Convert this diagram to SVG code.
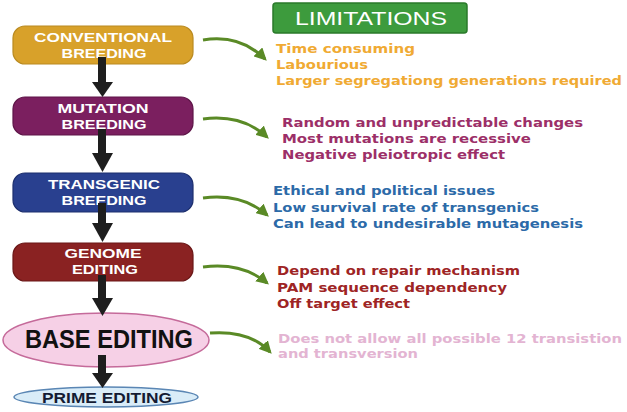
<svg xmlns="http://www.w3.org/2000/svg" width="627" height="412" viewBox="0 0 627 412">
<defs>
<style>
.box{stroke-width:1.2}
.lbl{font-family:"Liberation Sans",Arial,sans-serif;font-weight:bold;fill:#ffffff;font-size:13.5px;text-anchor:middle}
.lim{font-family:"DejaVu Sans","Liberation Sans",sans-serif;font-weight:bold;font-size:13px}
.shaft{stroke:#1e1e1e;stroke-width:8;fill:none}
.head{fill:#1e1e1e}
.green{stroke:#5a8a26;stroke-width:3;fill:none;marker-end:url(#gh)}
</style>
<marker id="gh" viewBox="0 0 10 10" refX="8" refY="5" markerWidth="4.2" markerHeight="4.2" orient="auto" markerUnits="strokeWidth">
<path d="M0,0 L10,5 L0,10 z" fill="#5a8a26"/>
</marker>
</defs>
<rect width="627" height="412" fill="#ffffff"/>

<g id="limitations">
<rect x="273" y="3" width="194" height="30" rx="3" fill="#3d9b3d" stroke="#2a7a2a" stroke-width="1.5"/>
<text x="371" y="25" font-family="Liberation Sans,Arial,sans-serif" font-size="19" fill="#ffffff" text-anchor="middle" textLength="152" lengthAdjust="spacingAndGlyphs">LIMITATIONS</text>
</g>

<g id="conventional">
<rect class="box" x="13" y="26" width="180" height="38" rx="12" fill="#d8a12a" stroke="#b98a20"/>
<text class="lbl" x="103" y="42" textLength="138" lengthAdjust="spacingAndGlyphs">CONVENTIONAL</text>
<text class="lbl" x="104" y="58" textLength="85" lengthAdjust="spacingAndGlyphs">BREEDING</text>
</g>
<g id="mutation">
<rect class="box" x="13" y="97" width="180" height="38" rx="12" fill="#7b1f5f" stroke="#5e1548"/>
<text class="lbl" x="103" y="113" textLength="91" lengthAdjust="spacingAndGlyphs">MUTATION</text>
<text class="lbl" x="104" y="129" textLength="85" lengthAdjust="spacingAndGlyphs">BREEDING</text>
</g>
<g id="transgenic">
<rect class="box" x="13" y="173" width="180" height="39" rx="12" fill="#29408f" stroke="#1d2f6e"/>
<text class="lbl" x="104" y="189" textLength="112" lengthAdjust="spacingAndGlyphs">TRANSGENIC</text>
<text class="lbl" x="104" y="205" textLength="85" lengthAdjust="spacingAndGlyphs">BREEDING</text>
</g>
<g id="genome">
<rect class="box" x="13" y="243" width="180" height="38" rx="12" fill="#8a2222" stroke="#6a1717"/>
<text class="lbl" x="103" y="258" textLength="77" lengthAdjust="spacingAndGlyphs">GENOME</text>
<text class="lbl" x="105" y="274" textLength="66" lengthAdjust="spacingAndGlyphs">EDITING</text>
</g>
<g id="base">
<ellipse cx="106" cy="340" rx="103" ry="27" fill="#f6d0e6" stroke="#c56a9a" stroke-width="1.5"/>
<text x="109" y="348" font-family="Liberation Sans,Arial,sans-serif" font-weight="bold" font-size="25" fill="#111111" text-anchor="middle" textLength="168" lengthAdjust="spacingAndGlyphs">BASE EDITING</text>
</g>
<g id="prime">
<ellipse cx="106" cy="397" rx="92" ry="10" fill="#d9ecf8" stroke="#5a86b4" stroke-width="1.5"/>
<text x="107" y="403" font-family="Liberation Sans,Arial,sans-serif" font-weight="bold" font-size="14" fill="#141b33" text-anchor="middle" textLength="130" lengthAdjust="spacingAndGlyphs">PRIME EDITING</text>
</g>

<g id="connectors">
<line class="shaft" x1="102" y1="57" x2="102" y2="84"/>
<path class="head" d="M92,82 L113,82 L102.5,97 z"/>
<line class="shaft" x1="102" y1="129" x2="102" y2="155"/>
<path class="head" d="M92,153 L113,153 L102.5,172 z"/>
<line class="shaft" x1="102" y1="203" x2="102" y2="225"/>
<path class="head" d="M92,223 L113,223 L102.5,242 z"/>
<line class="shaft" x1="102" y1="275" x2="102" y2="300"/>
<path class="head" d="M92,298 L113,298 L102.5,316 z"/>
<line class="shaft" x1="102" y1="355" x2="102" y2="375"/>
<path class="head" d="M92,373 L113,373 L102.5,388 z"/>

<path class="green" d="M203,40 Q240,34 265,59"/>
<path class="green" d="M203,119 Q242,114 267,137"/>
<path class="green" d="M203,198 Q242,193 267,215"/>
<path class="green" d="M203,267 Q242,262 267,283"/>
<path class="green" d="M210,333 Q250,330 270,352"/>
</g>

<g id="text-conventional" class="lim" fill="#f0aa33">
<text x="276" y="53" textLength="139" lengthAdjust="spacingAndGlyphs">Time consuming</text>
<text x="276" y="69" textLength="92" lengthAdjust="spacingAndGlyphs">Labourious</text>
<text x="276" y="85" textLength="346" lengthAdjust="spacingAndGlyphs">Larger segregationg generations required</text>
</g>
<g id="text-mutation" class="lim" fill="#9c2f68">
<text x="282" y="127" textLength="301" lengthAdjust="spacingAndGlyphs">Random and unpredictable changes</text>
<text x="282" y="143" textLength="249" lengthAdjust="spacingAndGlyphs">Most mutations are recessive</text>
<text x="282" y="159" textLength="223" lengthAdjust="spacingAndGlyphs">Negative pleiotropic effect</text>
</g>
<g id="text-transgenic" class="lim" fill="#2c6aa8">
<text x="273" y="195" textLength="222" lengthAdjust="spacingAndGlyphs">Ethical and political issues</text>
<text x="273" y="212" textLength="266" lengthAdjust="spacingAndGlyphs">Low survival rate of transgenics</text>
<text x="273" y="228" textLength="310" lengthAdjust="spacingAndGlyphs">Can lead to undesirable mutagenesis</text>
</g>
<g id="text-genome" class="lim" fill="#9e2424">
<text x="277" y="275" textLength="243" lengthAdjust="spacingAndGlyphs">Depend on repair mechanism</text>
<text x="277" y="292" textLength="230" lengthAdjust="spacingAndGlyphs">PAM sequence dependency</text>
<text x="277" y="308" textLength="133" lengthAdjust="spacingAndGlyphs">Off target effect</text>
</g>
<g id="text-base" class="lim" fill="#e3b4d2">
<text x="278" y="343" textLength="344" lengthAdjust="spacingAndGlyphs">Does not allow all possible 12 transistion</text>
<text x="278" y="358" textLength="140" lengthAdjust="spacingAndGlyphs">and transversion</text>
</g>
</svg>
